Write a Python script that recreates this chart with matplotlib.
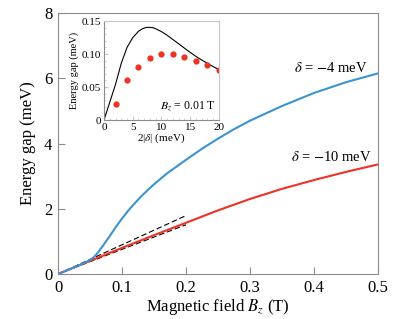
"""
Energy gap vs magnetic field, with inset vs detuning
"""
import numpy as np
import matplotlib
matplotlib.use('Agg')
import matplotlib.pyplot as plt
from matplotlib.ticker import MultipleLocator

plt.rcParams['font.family'] = ['Liberation Serif', 'DejaVu Serif']
plt.rcParams['mathtext.fontset'] = 'stix'

#Main panel data
bz_blue = [0, 0.02, 0.04, 0.05, 0.055, 0.06, 0.07, 0.08, 0.09, 0.10, 0.11,
           0.12, 0.13, 0.14, 0.15, 0.17, 0.20, 0.225, 0.25, 0.275, 0.30,
           0.35, 0.40, 0.45, 0.50]
gap_blue = [0, 0.16, 0.33, 0.43, 0.50, 0.60, 0.86, 1.14, 1.43, 1.70, 1.95,
            2.17, 2.38, 2.57, 2.75, 3.08, 3.50, 3.84, 4.15, 4.44, 4.70,
            5.15, 5.55, 5.88, 6.15]
bz_red = [0, 0.05, 0.10, 0.15, 0.20, 0.25, 0.30, 0.35, 0.40, 0.45, 0.50]
gap_red = [0, 0.40, 0.80, 1.19, 1.57, 1.95, 2.30, 2.61, 2.88, 3.13, 3.36]
bz_dash = [0, 0.2]
gap_dash_up = [0, 1.79]
gap_dash_lo = [0, 1.51]

#Inset data
delta_curve = [0, 1, 2, 3, 4, 5, 6, 6.5, 7, 7.5, 8, 8.5, 9, 10, 11, 12, 13,
               14, 15, 16, 17, 18, 19, 20]
gap_curve = [0, 0.027, 0.054, 0.086, 0.110, 0.125, 0.1345, 0.1375, 0.1395,
             0.1405, 0.1405, 0.140, 0.1385, 0.134, 0.1285, 0.122, 0.1155,
             0.109, 0.1025, 0.0965, 0.091, 0.086, 0.081, 0.0765]
delta_pts = [2, 4, 6, 8, 10, 12, 14, 16, 18, 20]
gap_pts = [0.024, 0.060, 0.081, 0.094, 0.100, 0.100, 0.095, 0.089, 0.083, 0.076]

blue = '#3d93cf'
red = '#ee3224'
gray = '#8c8c8c'

fig = plt.figure(figsize=(3.99, 3.19), dpi=100)
ax = fig.add_axes([0.1454, 0.1411, 0.802, 0.818])

ax.plot(bz_dash, gap_dash_up, color='black', lw=0.8, ls=(0, (5, 2.5)))
ax.plot(bz_dash, gap_dash_lo, color='black', lw=0.8, ls=(0, (5, 2.5)))
ax.plot(bz_red, gap_red, color=red, lw=1.5)
ax.plot(bz_blue, gap_blue, color=blue, lw=1.5)

ax.set_xlim(0, 0.5)
ax.set_ylim(0, 8)
ax.set_xticks([0, 0.1, 0.2, 0.3, 0.4, 0.5])
ax.set_xticklabels(['0', '0.1', '0.2', '0.3', '0.4', '0.5'])
ax.set_yticks([0, 2, 4, 6, 8])
ax.tick_params(direction='in', labelsize=12, color=gray, length=5, pad=4)
for s in ax.spines.values():
    s.set_color(gray)
ax.set_xlabel(r'Magnetic field $B_z$ (T)', fontsize=12, labelpad=1)
ax.set_ylabel('Energy gap (meV)', fontsize=12, labelpad=6)

ax.text(0.484, 6.32, r'$\delta$ = $-$4 meV', fontsize=10.5, ha='right', va='center')
ax.text(0.490, 3.60, r'$\delta$ = $-$10 meV', fontsize=10.5, ha='right', va='center')

#Inset
ins = fig.add_axes([0.2607, 0.6238, 0.288, 0.310])
ins.plot(delta_curve, gap_curve, color='black', lw=0.8)
ins.plot(delta_pts, gap_pts, 'o', color=red, ms=4.5, mec='none')
ins.set_xlim(0, 20)
ins.set_ylim(0, 0.15)
ins.set_xticks([0, 5, 10, 15, 20])
ins.set_yticks([0, 0.05, 0.10, 0.15])
ins.set_yticklabels(['0', '0.05', '0.10', '0.15'])
ins.xaxis.set_minor_locator(MultipleLocator(1))
ins.yaxis.set_minor_locator(MultipleLocator(0.01))
ins.tick_params(which='both', direction='in', labelsize=8, color='#c8c8c8', pad=2)
ins.tick_params(which='major', length=3)
ins.tick_params(which='minor', length=1.5)
for s in ins.spines.values():
    s.set_color('#c8c8c8')
ins.spines['left'].set_color(gray)
ins.spines['bottom'].set_color(gray)
ins.set_xlabel(r'2|$\delta$| (meV)', fontsize=8, labelpad=0)
ins.set_ylabel('Energy gap (meV)', fontsize=7.5, labelpad=2)
ins.text(19.5, 0.021, r'$B_z$ = 0.01 T', fontsize=8.5, ha='right', va='center')

fig.savefig('out.png', dpi=100)
